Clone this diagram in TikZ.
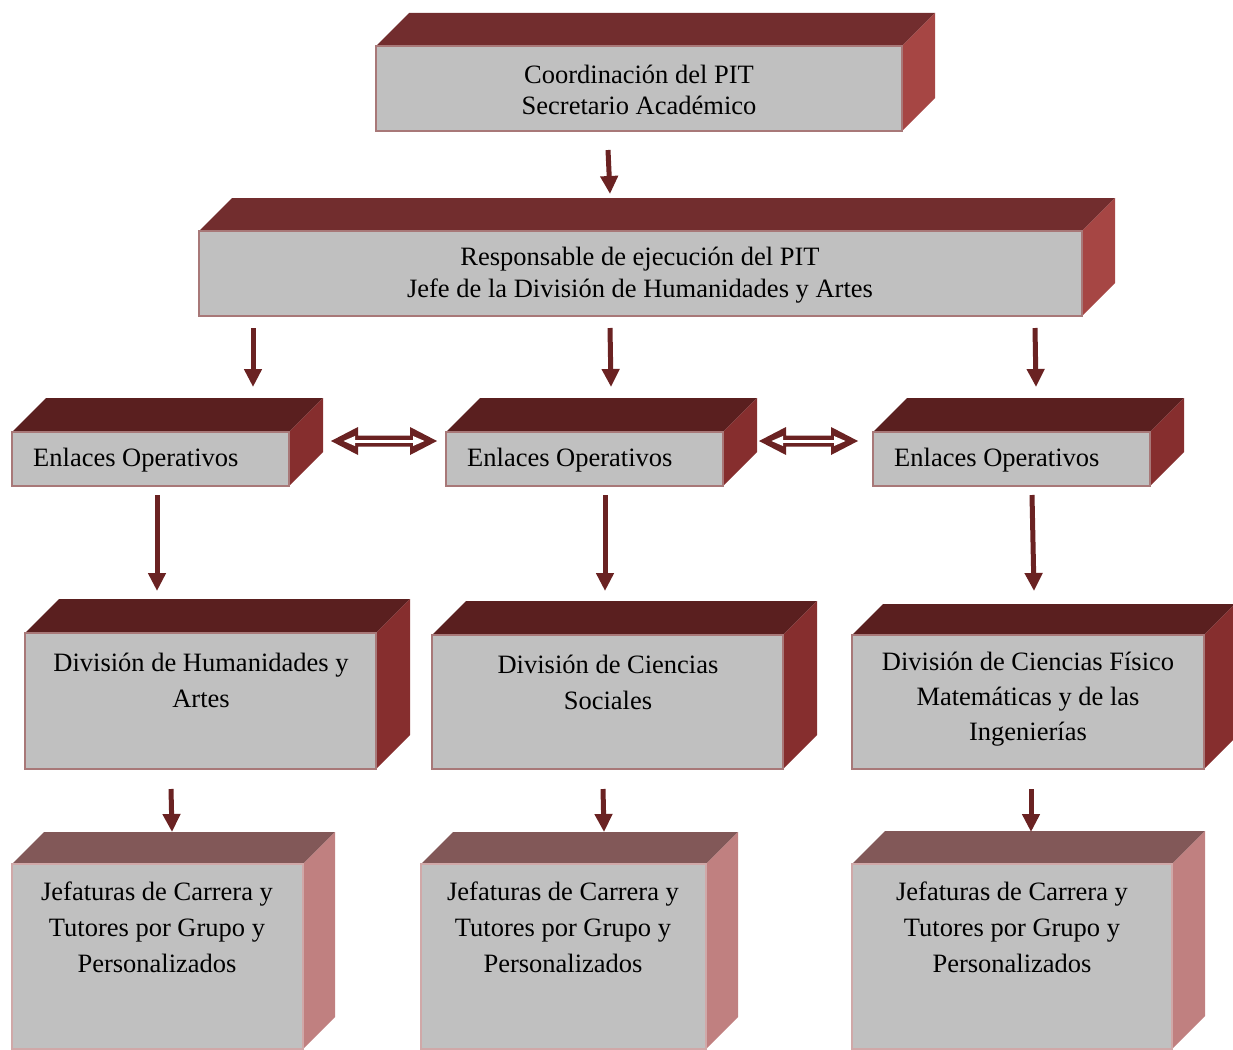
\documentclass[tikz,border=0pt]{standalone}
\usepackage{fontspec}
\setmainfont{Liberation Serif}
\usetikzlibrary{arrows.meta,calc}
\definecolor{frontc}{HTML}{C0C0C0}
\definecolor{borderc}{HTML}{A87878}
\definecolor{borderl}{HTML}{D0A8A8}
\definecolor{topA}{HTML}{722D2E}
\definecolor{sideA}{HTML}{A64644}
\definecolor{topB}{HTML}{5A1F1F}
\definecolor{sideB}{HTML}{862E2E}
\definecolor{topC}{HTML}{825858}
\definecolor{sideC}{HTML}{C08080}
\definecolor{arrc}{HTML}{6A2222}
\newcommand{\boxfaces}[5]{%
  \fill[#3] (#1.north west) -- ($(#1.north west)+(#2,-#2)$) -- ($(#1.north east)+(#2,-#2)$) -- (#1.north east) -- cycle;
  \fill[#4] (#1.north east) -- ($(#1.north east)+(#2,-#2)$) -- ($(#1.south east)+(#2,-#2)$) -- (#1.south east) -- cycle;
  \draw[#5,line width=2pt] (#1.north west) rectangle (#1.south east);}
\begin{document}
\begin{tikzpicture}[x=1pt,y=-1pt,
  front/.style={rectangle,fill=frontc,inner sep=0pt,outer sep=0pt},
  txt/.style={align=center,font=\fontsize{26.5}{32}\selectfont,inner sep=0pt},
  arr/.style={draw=arrc,line width=5pt,-{Triangle[width=17pt,length=18pt]}},
  dbl/.style={fill=arrc}]
\useasboundingbox (0,0) rectangle (1233,1049);
% level 1
\node[front,minimum width=526pt,minimum height=85pt] (b1) at (639,88.5) {};
\boxfaces{b1}{33}{topA}{sideA}{borderc}
\node[txt,font=\fontsize{26.5}{31}\selectfont] (t1) at (639,90) {Coordinación del PIT\\Secretario Académico};
% level 2
\node[front,minimum width=883pt,minimum height=85pt] (b2) at (640.5,273.5) {};
\boxfaces{b2}{33}{topA}{sideA}{borderc}
\node[txt] (t2) at (640,275) {Responsable de ejecución del PIT\\Jefe de la División de Humanidades y Artes};
% level 3
\node[front,minimum width=277pt,minimum height=54pt] (e1) at (150.5,459) {};
\node[front,minimum width=277pt,minimum height=54pt] (e2) at (584.5,459) {};
\node[front,minimum width=277pt,minimum height=54pt] (e3) at (1011.5,459) {};
\boxfaces{e1}{34}{topB}{sideB}{borderc}
\boxfaces{e2}{34}{topB}{sideB}{borderc}
\boxfaces{e3}{34}{topB}{sideB}{borderc}
\node[txt,anchor=west] (te1) at (33,460) {Enlaces Operativos};
\node[txt,anchor=west] (te2) at (467,460) {Enlaces Operativos};
\node[txt,anchor=west] (te3) at (894,460) {Enlaces Operativos};
% level 4
\node[front,minimum width=351pt,minimum height=136pt] (d1) at (200.5,701) {};
\node[front,minimum width=351pt,minimum height=134pt] (d2) at (607.5,702) {};
\node[front,minimum width=352pt,minimum height=134pt] (d3) at (1028,702) {};
\boxfaces{d1}{34}{topB}{sideB}{borderc}
\boxfaces{d2}{34}{topB}{sideB}{borderc}
\boxfaces{d3}{31}{topB}{sideB}{borderc}
\node[txt,font=\fontsize{26.5}{36}\selectfont] (td1) at (201,680) {División de Humanidades y\\Artes};
\node[txt,font=\fontsize{26.5}{36}\selectfont] (td2) at (608,682) {División de Ciencias\\Sociales};
\node[txt,font=\fontsize{26.5}{35}\selectfont] (td3) at (1028,699) {División de Ciencias Físico\\Matemáticas y de las\\Ingenierías};
% level 5
\node[front,minimum width=291pt,minimum height=185pt] (j1) at (157.5,956.5) {};
\node[front,minimum width=285pt,minimum height=185pt] (j2) at (563.5,956.5) {};
\node[front,minimum width=320pt,minimum height=185pt] (j3) at (1012,956.5) {};
\boxfaces{j1}{32}{topC}{sideC}{borderl}
\boxfaces{j2}{32}{topC}{sideC}{borderl}
\boxfaces{j3}{33}{topC}{sideC}{borderl}
\node[txt,font=\fontsize{26.5}{36}\selectfont] (tj1) at (157,927) {Jefaturas de Carrera y\\Tutores por Grupo y\\Personalizados};
\node[txt,font=\fontsize{26.5}{36}\selectfont] (tj2) at (563,927) {Jefaturas de Carrera y\\Tutores por Grupo y\\Personalizados};
\node[txt,font=\fontsize{26.5}{36}\selectfont] (tj3) at (1012,927) {Jefaturas de Carrera y\\Tutores por Grupo y\\Personalizados};
% arrows
\coordinate (a0s) at (608,150); \coordinate (a0e) at (610,194);
\draw[arr] (a0s) -- (a0e);
\coordinate (a1s) at (253,328); \coordinate (a1e) at (253,387);
\coordinate (a2s) at (610,328); \coordinate (a2e) at (611,387);
\coordinate (a3s) at (1035,328); \coordinate (a3e) at (1036,387);
\draw[arr] (a1s) -- (a1e);
\draw[arr] (a2s) -- (a2e);
\draw[arr] (a3s) -- (a3e);
\coordinate (a4s) at (157,495); \coordinate (a4e) at (157,591);
\coordinate (a5s) at (605,495); \coordinate (a5e) at (605,591);
\coordinate (a6s) at (1032,495); \coordinate (a6e) at (1034,591);
\draw[arr] (a4s) -- (a4e);
\draw[arr] (a5s) -- (a5e);
\draw[arr] (a6s) -- (a6e);
\coordinate (a7s) at (171,789); \coordinate (a7e) at (172,832);
\coordinate (a8s) at (603,789); \coordinate (a8e) at (604,832);
\coordinate (a9s) at (1031,789); \coordinate (a9e) at (1031,832);
\draw[arr] (a7s) -- (a7e);
\draw[arr] (a8s) -- (a8e);
\draw[arr] (a9s) -- (a9e);
% double arrows
\foreach \xa/\xb [count=\i] in {331/437,759/858}{
  \pgfmathsetmacro{\xc}{\xa+27}\pgfmathsetmacro{\xd}{\xb-27}
  \fill[arrc] (\xa,441) -- (\xc,427) -- (\xc,435.5) -- (\xd,435.5) -- (\xd,427) -- (\xb,441) -- (\xd,455) -- (\xd,446.5) -- (\xc,446.5) -- (\xc,455) -- cycle;
  \draw[white,line width=3pt,{Triangle[width=9pt,length=12pt]}-{Triangle[width=9pt,length=12pt]}] (\xa+12,441) -- (\xb-12,441);
}
\end{tikzpicture}
\end{document}
